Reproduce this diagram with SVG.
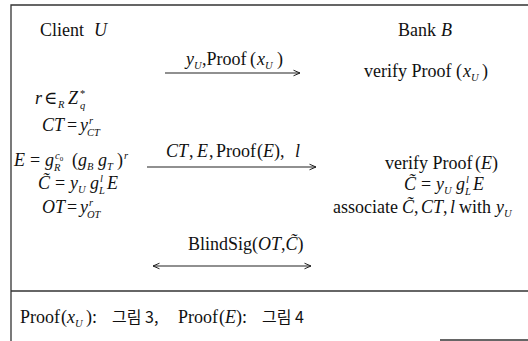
<svg xmlns="http://www.w3.org/2000/svg" width="528" height="341" viewBox="0 0 528 341">
<style>
text{font-family:"Liberation Serif","DejaVu Serif",serif;font-size:18px;fill:#111}
.i{font-style:italic}
.s{font-size:10.5px}
.k{font-family:"Noto Sans CJK KR",sans-serif;font-size:16px}
.ln{stroke:#222;stroke-width:1.2;fill:none}
.fr{stroke:#333;stroke-width:1.3;fill:none}
</style>
<defs>
<marker id="ah" viewBox="0 0 8 8" refX="7.5" refY="4" markerWidth="8" markerHeight="8" markerUnits="userSpaceOnUse" orient="auto-start-reverse">
<path d="M1,1.2 L7.5,4 L1,6.8" fill="none" stroke="#222" stroke-width="1"/>
</marker>
</defs>
<g id="frame">
<path class="fr" d="M11,341 V5 H528"/>
<path class="fr" d="M11,291 H528"/>
<path class="fr" d="M440,340 H528"/>
</g>
<g id="client">
<text x="40" y="36">Client</text><text class="i" x="94" y="36">U</text>
<text y="104"><tspan class="i" x="35">r</tspan><tspan x="44">∈</tspan><tspan class="s i" x="58" dy="4">R</tspan><tspan class="i" x="68" dy="-4">Z</tspan><tspan class="s i" x="80" dy="5">q</tspan></text>
<text y="97"><tspan class="s" x="80">*</tspan></text>
<text y="131"><tspan class="i" x="42">CT</tspan><tspan x="67">=</tspan><tspan class="i" x="80">y</tspan><tspan class="s i" x="87" dy="5">CT</tspan></text>
<text y="124"><tspan class="s i" x="89">r</tspan></text>
<text y="166"><tspan class="i" x="14">E</tspan><tspan x="30">=</tspan><tspan class="i" x="45">g</tspan><tspan class="s i" x="54" dy="5">R</tspan><tspan x="72" dy="-5">(</tspan><tspan class="i" x="78">g</tspan><tspan class="s i" x="87" dy="4">B</tspan><tspan class="i" x="98" dy="-4">g</tspan><tspan class="s i" x="107" dy="4">T</tspan><tspan x="117" dy="-4">)</tspan><tspan class="s i" x="124" dy="-7">r</tspan></text>
<text y="159"><tspan class="s i" x="55">c</tspan><tspan style="font-size:7px" dy="2">0</tspan></text>
<text y="189"><tspan class="i" x="38">C̃</tspan><tspan x="55">=</tspan><tspan class="i" x="70">y</tspan><tspan class="s i" x="78" dy="4">U</tspan><tspan class="i" x="90" dy="-4">g</tspan><tspan class="s i" x="99" dy="5">L</tspan><tspan class="i" x="107" dy="-5">E</tspan></text>
<text y="182"><tspan class="s i" x="100">l</tspan></text>
<text y="213"><tspan class="i" x="42">OT</tspan><tspan x="67">=</tspan><tspan class="i" x="80">y</tspan><tspan class="s i" x="87" dy="5">OT</tspan></text>
<text y="206"><tspan class="s i" x="89">r</tspan></text>
</g>
<g id="bank">
<text x="398" y="36">Bank</text><text class="i" x="441" y="36">B</text>
<text y="77"><tspan x="364">verify Proof</tspan><tspan x="456">(</tspan><tspan class="i" x="463">x</tspan><tspan class="s i" x="471" dy="4">U</tspan><tspan x="482" dy="-4">)</tspan></text>
<text y="169"><tspan x="385">verify Proof</tspan><tspan x="475">(</tspan><tspan class="i">E</tspan><tspan>)</tspan></text>
<text y="190"><tspan class="i" x="404">C̃</tspan><tspan x="421">=</tspan><tspan class="i" x="436">y</tspan><tspan class="s i" x="444" dy="4">U</tspan><tspan class="i" x="456" dy="-4">g</tspan><tspan class="s i" x="465" dy="5">L</tspan><tspan class="i" x="473" dy="-5">E</tspan></text>
<text y="183"><tspan class="s i" x="466">l</tspan></text>
<text y="213"><tspan x="333">associate</tspan><tspan class="i" x="402">C̃</tspan><tspan x="414">,</tspan><tspan class="i" x="421">CT</tspan><tspan x="443">,</tspan><tspan class="i" x="450">l</tspan><tspan x="459">with</tspan><tspan class="i" x="496">y</tspan><tspan class="s i" x="504" dy="4">U</tspan></text>
</g>
<g id="connectors">
<line class="ln" x1="165" y1="73" x2="300" y2="73" marker-end="url(#ah)"/>
<text y="65"><tspan class="i" x="186">y</tspan><tspan class="s i" x="194" dy="4">U</tspan><tspan x="202" dy="-4">,Proof</tspan><tspan x="250">(</tspan><tspan class="i" x="257">x</tspan><tspan class="s i" x="265" dy="4">U</tspan><tspan x="277" dy="-4">)</tspan></text>
<line class="ln" x1="147" y1="167" x2="316" y2="167" marker-end="url(#ah)"/>
<text y="157"><tspan class="i" x="166">CT</tspan><tspan x="189">,</tspan><tspan class="i" x="197">E</tspan><tspan x="209">,</tspan><tspan x="216">Proof</tspan><tspan x="257">(</tspan><tspan class="i">E</tspan><tspan>),</tspan><tspan class="i" x="295">l</tspan></text>
<line class="ln" x1="153" y1="266" x2="311" y2="266" marker-start="url(#ah)" marker-end="url(#ah)"/>
<text y="250"><tspan x="188">BlindSig(</tspan><tspan class="i">OT</tspan><tspan>,</tspan><tspan class="i">C̃</tspan><tspan>)</tspan></text>
</g>
<g id="note">
<text y="323"><tspan x="20">Proof</tspan><tspan x="61">(</tspan><tspan class="i" x="67">x</tspan><tspan class="s i" x="75" dy="4">U</tspan><tspan x="86" dy="-4">):</tspan><tspan class="k" x="112">그림 3,</tspan><tspan x="178">Proof</tspan><tspan x="219">(</tspan><tspan class="i">E</tspan><tspan>):</tspan><tspan class="k" x="262">그림 4</tspan></text>
</g>
</svg>
